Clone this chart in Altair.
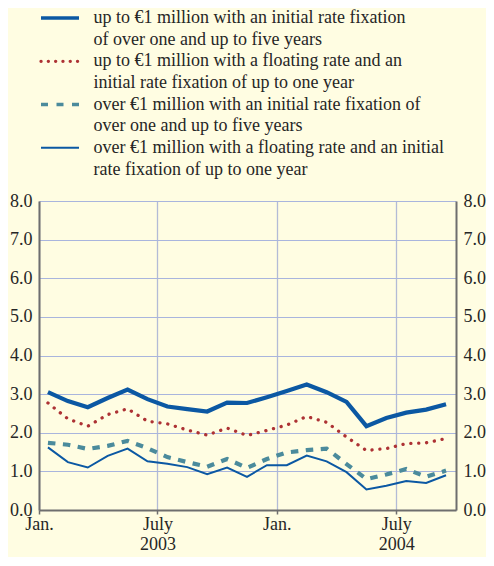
import altair as alt
import pandas as pd

# ---- data ----
months = ["2003-01", "2003-02", "2003-03", "2003-04", "2003-05", "2003-06",
          "2003-07", "2003-08", "2003-09", "2003-10", "2003-11", "2003-12",
          "2004-01", "2004-02", "2004-03", "2004-04", "2004-05", "2004-06",
          "2004-07", "2004-08", "2004-09"]
s1 = [3.05, 2.82, 2.66, 2.90, 3.12, 2.87, 2.68, 2.61, 2.55, 2.78, 2.77,
      2.92, 3.08, 3.25, 3.05, 2.80, 2.17, 2.38, 2.52, 2.60, 2.74]
s2 = [2.77, 2.36, 2.17, 2.47, 2.62, 2.30, 2.23, 2.07, 1.94, 2.12, 1.93,
      2.06, 2.20, 2.42, 2.27, 1.89, 1.54, 1.59, 1.72, 1.74, 1.85]
s3 = [1.74, 1.69, 1.58, 1.66, 1.79, 1.60, 1.37, 1.24, 1.12, 1.32, 1.09,
      1.32, 1.49, 1.55, 1.59, 1.19, 0.80, 0.92, 1.06, 0.86, 1.02]
s4 = [1.62, 1.24, 1.10, 1.40, 1.59, 1.26, 1.20, 1.11, 0.93, 1.10, 0.86,
      1.16, 1.16, 1.41, 1.26, 0.98, 0.53, 0.63, 0.75, 0.70, 0.90]

series_keys = ["s1", "s2", "s3", "s4"]
legend_lines = [
    "up to \u20ac1 million with an initial rate fixation",
    "of over one and up to five years",
    "up to \u20ac1 million with a floating rate and an",
    "initial rate fixation of up to one year",
    "over \u20ac1 million with an initial rate fixation of",
    "over one and up to five years",
    "over \u20ac1 million with a floating rate and an initial",
    "rate fixation of up to one year",
]
legend_rows = [0, 2, 4, 6]

tick_values = [-0.45, 5.5, 11.5, 17.5]
tick_labels = ["Jan.", "July|2003", "Jan.", "July|2004"]
y_ticks = [0, 1, 2, 3, 4, 5, 6, 7, 8]

# ---- styles ----
FONT = "Liberation Serif"
BG = "#fffde2"
AXIS_COL = "#6e6e6e"
TXT = "#262626"
styles = {
    "s1": dict(color="#0b58a3", strokeWidth=4.2),
    "s2": dict(color="#ad3234", strokeWidth=3.3, strokeDash=[0.1, 7.8], strokeCap="round"),
    "s3": dict(color="#4b8b9c", strokeWidth=4.2, strokeDash=[7.5, 7.5]),
    "s4": dict(color="#0b58a3", strokeWidth=2),
}
legend_styles = {
    "s1": dict(color="#0b58a3", strokeWidth=3.6),
    "s2": dict(color="#ad3234", strokeWidth=3.3, strokeDash=[0.1, 7.2], strokeCap="round"),
    "s3": dict(color="#4b8b9c", strokeWidth=3.6, strokeDash=[7, 8.5]),
    "s4": dict(color="#0b58a3", strokeWidth=2),
}

df = pd.DataFrame({"i": list(range(len(months))), "month": months,
                   "s1": s1, "s2": s2, "s3": s3, "s4": s4})

label_expr = "''"
for v, lab in reversed(list(zip(tick_values, tick_labels))):
    label_expr = f"abs(datum.value - ({v})) < 0.01 ? split('{lab}', '|') : {label_expr}"

x_enc = alt.X(
    "i:Q",
    scale=alt.Scale(domain=[-0.45, 20.5], nice=False, zero=False),
    axis=alt.Axis(values=tick_values, labelExpr=label_expr, grid=True,
                  gridColor="#b3bbd6", gridWidth=1.3, domainColor=AXIS_COL,
                  domainWidth=2, tickColor=AXIS_COL, tickSize=4, tickWidth=1.5,
                  labelFont=FONT, labelFontSize=18, labelColor=TXT,
                  labelPadding=1, labelLineHeight=20.5, labelFlush=False,
                  labelOverlap=False, labelAlign="center", labelBaseline="top",
                  title=None),
)
y_scale = alt.Scale(domain=[0, 8], nice=False, zero=True)


def y_axis(orient, grid, pad):
    return alt.Axis(orient=orient, values=y_ticks, format=".1f", grid=grid,
                    gridColor="#a9b5dd", gridWidth=1.2, tickSize=0,
                    labelPadding=pad, domainColor=AXIS_COL, domainWidth=2,
                    labelFont=FONT, labelFontSize=18, labelColor=TXT,
                    labelFlush=False, labelOverlap=False, title=None)


base = alt.Chart(df)
layers = {}
for key in series_keys:
    if key == "s1":
        ax = y_axis("left", True, 7)
    elif key == "s4":
        ax = y_axis("right", False, 7)
    else:
        ax = None
    layers[key] = base.mark_line(**styles[key]).encode(
        x=x_enc, y=alt.Y(f"{key}:Q", scale=y_scale, axis=ax)
    )
plot = alt.layer(layers["s1"], layers["s4"], layers["s3"], layers["s2"]).resolve_axis(y="independent")

# ---- legend built from the legend arrays ----
leg_text_df = pd.DataFrame({"row": list(range(len(legend_lines))), "text": legend_lines})
legend_y = alt.Y("row:Q", scale=alt.Scale(domain=[0, 7], range=[-183, -31.5], nice=False, zero=False), axis=None)
leg_text = alt.Chart(leg_text_df).mark_text(
    align="left", baseline="middle", font=FONT, fontSize=18, color=TXT
).encode(x=alt.value(54.5), y=legend_y, text="text:N")

leg_layers = [leg_text]
for key, row in zip(series_keys, legend_rows):
    sdf = pd.DataFrame({"row": [row], "series": [key]})
    leg_layers.append(
        alt.Chart(sdf).mark_rule(**legend_styles[key]).encode(
            x=alt.value(2), x2=alt.value(40), y=legend_y
        )
    )
legend = alt.layer(*leg_layers)

chart = alt.layer(plot, legend).resolve_scale(y="independent").properties(
    width=417, height=309,
    background=BG,
    autosize=alt.AutoSizeParams(type="none"),
    padding={"left": 31, "top": 193, "right": 30, "bottom": 47},
).configure_view(strokeWidth=0)

chart.save("out.html", embed_options={"renderer": "svg", "actions": False})
